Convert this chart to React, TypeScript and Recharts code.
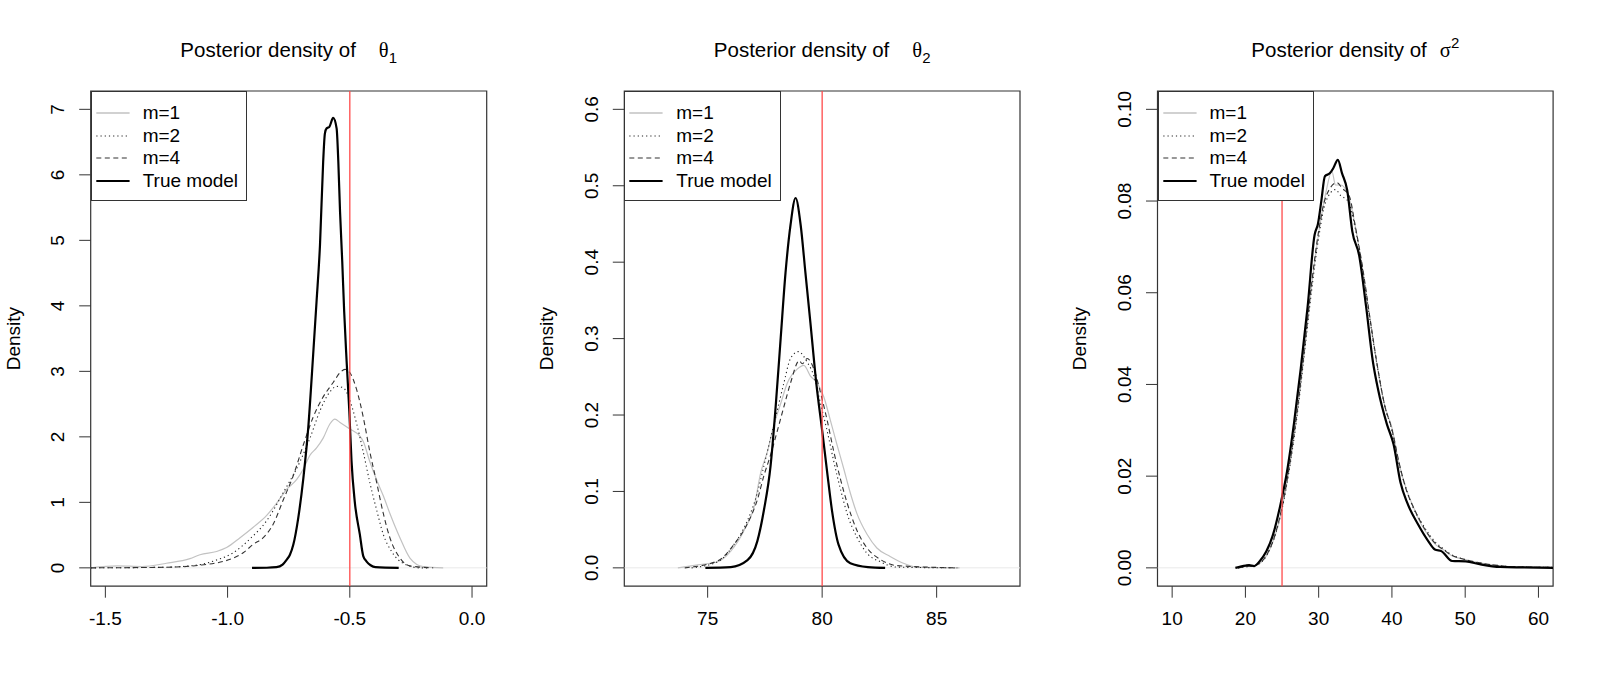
import React from "react";
import {
  LineChart,
  Line,
  XAxis,
  YAxis,
  ReferenceLine,
  ReferenceArea,
  Legend,
} from "recharts";

const FONT = '"Liberation Sans", Arial, Helvetica, sans-serif';
const SYMBOL_FONT = '"Liberation Serif", "DejaVu Serif", serif';

// ---------- theta_1 ----------
const th1XTicks = [-1.5, -1.0, -0.5, 0.0];
const th1YTicks = [0, 1, 2, 3, 4, 5, 6, 7];
const th1True = -0.5;

const th1M1X = [-1.56, -1.45, -1.35, -1.25, -1.154, -1.113, -1.045, -1.004, -0.949, -0.895, -0.84, -0.799, -0.758, -0.717, -0.69, -0.663, -0.636, -0.609, -0.581, -0.561, -0.54, -0.5, -0.459, -0.445, -0.418, -0.39, -0.363, -0.336, -0.295, -0.254, -0.2, -0.118];
const th1M1Y = [0, 0.03, 0.02, 0.07, 0.14, 0.2, 0.25, 0.31, 0.46, 0.62, 0.8, 0.99, 1.2, 1.35, 1.51, 1.72, 1.83, 1.98, 2.2, 2.27, 2.22, 2.12, 2.01, 1.93, 1.62, 1.34, 1.1, 0.83, 0.46, 0.15, 0.02, 0];

const th1M2X = [-1.56, -1.249, -1.113, -1.045, -0.977, -0.909, -0.84, -0.772, -0.704, -0.663, -0.622, -0.581, -0.554, -0.527, -0.5, -0.472, -0.445, -0.418, -0.39, -0.363, -0.329, -0.282, -0.213, -0.172];
const th1M2Y = [0, 0.01, 0.05, 0.12, 0.23, 0.44, 0.72, 1.15, 1.62, 1.98, 2.4, 2.69, 2.77, 2.75, 2.56, 2.2, 1.77, 1.3, 0.88, 0.51, 0.25, 0.07, 0, 0];

const th1M4X = [-1.56, -1.25, -1.113, -0.977, -0.936, -0.895, -0.854, -0.813, -0.772, -0.731, -0.69, -0.65, -0.609, -0.568, -0.54, -0.52, -0.5, -0.472, -0.445, -0.418, -0.39, -0.363, -0.336, -0.295, -0.254, -0.159];
const th1M4Y = [0, 0.01, 0.04, 0.15, 0.23, 0.36, 0.46, 0.67, 1.04, 1.41, 1.88, 2.3, 2.61, 2.83, 2.98, 3.03, 2.98, 2.72, 2.3, 1.77, 1.3, 0.83, 0.46, 0.15, 0.03, 0];

const th1TrueX = [-0.9, -0.84, -0.8, -0.775, -0.758, -0.745, -0.731, -0.711, -0.69, -0.67, -0.65, -0.636, -0.622, -0.609, -0.602, -0.595, -0.584, -0.568, -0.554, -0.547, -0.54, -0.531, -0.523, -0.513, -0.502, -0.493, -0.48, -0.459, -0.445, -0.432, -0.415, -0.395, -0.3];
const th1TrueY = [0, 0.002, 0.01, 0.05, 0.127, 0.2, 0.355, 0.76, 1.37, 2.14, 3.25, 4.07, 4.93, 6.2, 6.63, 6.71, 6.73, 6.87, 6.71, 6.2, 5.44, 4.68, 3.91, 3.15, 2.39, 1.63, 1.02, 0.51, 0.18, 0.1, 0.04, 0.01, 0];

// ---------- theta_2 ----------
const th2XTicks = [75, 80, 85];
const th2YTicks = [0, 0.1, 0.2, 0.3, 0.4, 0.5, 0.6];
const th2True = 80;

const th2M1X = [73.7, 74.57, 75.43, 76.01, 76.59, 77.03, 77.32, 77.61, 77.9, 78.19, 78.48, 78.91, 79.2, 79.49, 79.78, 80.07, 80.36, 80.65, 80.94, 81.23, 81.52, 81.96, 82.39, 82.97, 83.55, 84.13, 86.0];
const th2M1Y = [0, 0.004, 0.008, 0.022, 0.049, 0.08, 0.125, 0.152, 0.188, 0.215, 0.242, 0.26, 0.265, 0.251, 0.242, 0.224, 0.193, 0.161, 0.13, 0.098, 0.071, 0.044, 0.026, 0.015, 0.006, 0.001, 0];

const th2M2X = [74.3, 75.43, 76.16, 76.74, 77.17, 77.46, 77.75, 78.04, 78.33, 78.62, 78.96, 79.35, 79.64, 79.93, 80.22, 80.51, 80.8, 81.09, 81.52, 81.96, 82.54, 83.26, 85.9];
const th2M2Y = [0, 0.008, 0.031, 0.062, 0.098, 0.134, 0.17, 0.206, 0.242, 0.274, 0.283, 0.269, 0.251, 0.215, 0.179, 0.139, 0.103, 0.071, 0.04, 0.019, 0.008, 0.001, 0];

const th2M4X = [74.0, 75.43, 76.16, 76.74, 77.17, 77.46, 77.75, 78.04, 78.33, 78.62, 79.0, 79.13, 79.35, 79.64, 79.93, 80.22, 80.51, 80.8, 81.09, 81.52, 81.96, 82.54, 83.26, 85.9];
const th2M4Y = [0, 0.009, 0.031, 0.058, 0.089, 0.121, 0.148, 0.179, 0.211, 0.242, 0.271, 0.267, 0.274, 0.26, 0.229, 0.193, 0.152, 0.116, 0.085, 0.049, 0.026, 0.011, 0.003, 0];

const th2TrueX = [74.9, 76.01, 76.74, 77.17, 77.46, 77.75, 77.97, 78.19, 78.4, 78.62, 78.84, 79.06, 79.27, 79.49, 79.75, 80.0, 80.22, 80.43, 80.72, 81.23, 82.0, 82.75];
const th2TrueY = [0, 0.001, 0.01, 0.035, 0.076, 0.134, 0.211, 0.301, 0.386, 0.449, 0.484, 0.449, 0.386, 0.32, 0.24, 0.18, 0.125, 0.075, 0.03, 0.006, 0.001, 0];

// ---------- sigma^2 ----------
const sgXTicks = [10, 20, 30, 40, 50, 60];
const sgYTicks = [0, 0.02, 0.04, 0.06, 0.08, 0.1];
const sgTrue = 25;

const sgM1X = [19, 20, 21, 22, 23, 24, 25, 26, 27, 28, 29, 30, 31, 31.8, 32.3, 33, 34, 35, 36, 37, 38, 39, 40, 41, 42, 43, 44, 45, 46, 47, 48, 50, 52, 54, 57, 62];
const sgM1Y = [0, 0.0003, 0.0004, 0.001, 0.003, 0.0068, 0.013, 0.0218, 0.033, 0.0465, 0.061, 0.073, 0.082, 0.0865, 0.0835, 0.0835, 0.0815, 0.0745, 0.065, 0.0545, 0.044, 0.0355, 0.0305, 0.0225, 0.017, 0.013, 0.0095, 0.007, 0.005, 0.004, 0.0028, 0.0018, 0.0011, 0.0006, 0.0002, 0.0001];

const sgM2X = [19, 20, 21, 22, 23, 24, 25, 26, 27, 28, 29, 30, 31, 32.3, 33, 34, 35, 36, 37, 38, 39, 40, 41, 42, 43, 44, 45, 46, 47, 48, 50, 52, 54, 57, 62];
const sgM2Y = [0, 0.0002, 0.0004, 0.001, 0.003, 0.0068, 0.0128, 0.0215, 0.0325, 0.046, 0.06, 0.072, 0.08, 0.0825, 0.0812, 0.08, 0.074, 0.065, 0.054, 0.044, 0.0355, 0.03, 0.0225, 0.017, 0.0128, 0.01, 0.0075, 0.0055, 0.0042, 0.003, 0.0018, 0.001, 0.0006, 0.0002, 0.0001];

const sgM4X = [19, 20, 21, 22, 23, 24, 25, 26, 27, 28, 29, 30, 31, 32.5, 33.2, 34.2, 35, 36, 37, 38, 39, 40, 41, 42, 43, 44, 45, 46, 47, 48, 50, 52, 54, 57, 62];
const sgM4Y = [0, 0.0003, 0.0004, 0.0011, 0.0031, 0.007, 0.0133, 0.0222, 0.0335, 0.047, 0.0615, 0.0735, 0.081, 0.084, 0.0828, 0.081, 0.0745, 0.0655, 0.0545, 0.0442, 0.0355, 0.0302, 0.0228, 0.0168, 0.013, 0.0098, 0.0072, 0.0052, 0.004, 0.0029, 0.0018, 0.0011, 0.0006, 0.0002, 0.0001];

const sgTrueX = [18.63, 20.04, 20.5, 21.2, 21.92, 22.86, 23.8, 24.73, 25.67, 26.62, 27.55, 28.49, 29.44, 29.9, 30.37, 30.85, 31.55, 32.01, 32.62, 33.18, 33.89, 34.59, 35.53, 36.48, 37.41, 38.11, 39.3, 40.23, 41.17, 42.11, 43.52, 44.93, 45.86, 46.8, 48.21, 50.08, 51.97, 54.78, 58, 62];
const sgTrueY = [0, 0.0005, 0.0006, 0.0004, 0.0014, 0.0036, 0.0074, 0.0134, 0.0209, 0.0314, 0.0434, 0.0569, 0.0726, 0.075, 0.0801, 0.0854, 0.0861, 0.0872, 0.089, 0.0861, 0.0824, 0.0734, 0.0681, 0.0569, 0.0449, 0.0389, 0.0314, 0.0269, 0.0186, 0.0141, 0.0096, 0.0059, 0.004, 0.0036, 0.0015, 0.0014, 0.0008, 0.0002, 0.0001, 0];

const zip = (xs: number[], ys: number[]) => xs.map((x, i) => ({ x, y: ys[i] }));

// line looks, same order as the legend
const SERIES = [
  { key: "m1", name: "m=1", stroke: "#c2c2c2", width: 1.2, dash: undefined as string | undefined },
  { key: "m2", name: "m=2", stroke: "#222222", width: 1.1, dash: "1.2 3" },
  { key: "m4", name: "m=4", stroke: "#333333", width: 1.1, dash: "5 3.5" },
  { key: "tru", name: "True model", stroke: "#000000", width: 2.2, dash: undefined as string | undefined },
];

const PLOT_TOP = 91;
const PLOT_BOTTOM = 586.2;
const CHART_H = 700;
const TICK_LEN = 11.5;
const TEXT_SIZE = 19;

function LegendBox({ width }: { width: number }) {
  return (
    <div
      style={{
        width,
        height: 110,
        boxSizing: "border-box",
        border: "1px solid #333",
        background: "#fff",
        position: "relative",
        fontFamily: FONT,
        fontSize: TEXT_SIZE,
        color: "#000",
      }}
    >
      {SERIES.map((s, i) => (
        <div
          key={s.key}
          style={{ position: "absolute", left: 0, top: 21.4 + i * 22.4 - 11, height: 22, width: width - 2 }}
        >
          <svg width={44} height={22} style={{ position: "absolute", left: 0, top: 0 }}>
            <line
              x1={4.3}
              x2={37.6}
              y1={11}
              y2={11}
              stroke={s.stroke}
              strokeWidth={s.key === "m1" ? 1.6 : s.width}
              strokeDasharray={s.dash}
            />
          </svg>
          <span style={{ position: "absolute", left: 51, top: 0, lineHeight: "22px", whiteSpace: "nowrap" }}>
            {s.name}
          </span>
        </div>
      ))}
    </div>
  );
}

function Panel(props: {
  left: number;
  width: number;
  plotLeft: number;
  plotRight: number;
  xDomain: [number, number];
  yDomain: [number, number];
  xTicks: number[];
  yTicks: number[];
  xDigits: number;
  yDigits: number;
  lines: { x: number; y: number }[][];
  trueValue: number;
  legendWidth: number;
  title: React.ReactNode;
}) {
  const { left, width, plotLeft, plotRight, xDomain, yDomain } = props;
  const plotW = plotRight - plotLeft;

  const XTick = ({ x, y, payload }: any) => (
    <text x={x} y={y + 27.5} textAnchor="middle" fontSize={TEXT_SIZE} fontFamily={FONT} fill="#000">
      {Number(payload.value).toFixed(props.xDigits)}
    </text>
  );

  const YTick = ({ x, y, payload }: any) => {
    const bx = x - 15;
    return (
      <text
        x={bx}
        y={y}
        transform={`rotate(-90, ${bx}, ${y})`}
        textAnchor="middle"
        fontSize={TEXT_SIZE}
        fontFamily={FONT}
        fill="#000"
      >
        {Number(payload.value).toFixed(props.yDigits)}
      </text>
    );
  };

  const DensityLabel = ({ viewBox }: any) => {
    const vx = viewBox ? viewBox.x : 0;
    const cy = viewBox ? viewBox.y + viewBox.height / 2 : (PLOT_TOP + PLOT_BOTTOM) / 2;
    const bx = vx + plotLeft - 71;
    return (
      <text
        x={bx}
        y={cy}
        transform={`rotate(-90, ${bx}, ${cy})`}
        textAnchor="middle"
        fontSize={TEXT_SIZE}
        fontFamily={FONT}
        fill="#000"
      >
        Density
      </text>
    );
  };

  return (
    <div style={{ position: "absolute", left, top: 0, width, height: CHART_H }}>
      <div
        style={{
          position: "absolute",
          left: plotLeft,
          width: plotW,
          top: 39.5,
          textAlign: "center",
          fontFamily: FONT,
          fontSize: 20.5,
          lineHeight: "20px",
          whiteSpace: "nowrap",
          color: "#000",
        }}
      >
        {props.title}
      </div>
      <LineChart
        width={width}
        height={CHART_H}
        margin={{ top: PLOT_TOP, right: width - plotRight, bottom: 0, left: 0 }}
      >
        <XAxis
          type="number"
          dataKey="x"
          domain={xDomain}
          ticks={props.xTicks}
          interval={0}
          allowDataOverflow
          axisLine={false}
          tickSize={TICK_LEN}
          tickMargin={0}
          tickLine={{ stroke: "#333", strokeWidth: 1 }}
          tick={XTick}
          height={CHART_H - PLOT_BOTTOM}
        />
        <YAxis
          type="number"
          domain={yDomain}
          ticks={props.yTicks}
          interval={0}
          allowDataOverflow
          axisLine={false}
          tickSize={TICK_LEN}
          tickMargin={0}
          tickLine={{ stroke: "#333", strokeWidth: 1 }}
          tick={YTick}
          width={plotLeft}
          label={<DensityLabel />}
        />
        <ReferenceLine y={0} stroke="#e9e9e9" strokeWidth={1} />
        {SERIES.map((s, i) => (
          <Line
            key={s.key}
            data={props.lines[i]}
            dataKey="y"
            name={s.name}
            type="monotone"
            stroke={s.stroke}
            strokeWidth={s.width}
            strokeDasharray={s.dash}
            dot={false}
            activeDot={false}
            isAnimationActive={false}
          />
        ))}
        <ReferenceLine x={props.trueValue} stroke="#ff4a4a" strokeWidth={1.3} />
        <ReferenceArea
          x1={xDomain[0]}
          x2={xDomain[1]}
          y1={yDomain[0]}
          y2={yDomain[1]}
          fill="none"
          fillOpacity={0}
          stroke="#333"
          strokeWidth={1.2}
        />
        <Legend
          layout="vertical"
          align="center"
          verticalAlign="middle"
          content={() => <LegendBox width={props.legendWidth} />}
          wrapperStyle={{
            left: plotLeft,
            top: PLOT_TOP,
            width: props.legendWidth,
            height: 110,
            margin: 0,
          }}
        />
      </LineChart>
    </div>
  );
}

const Theta = ({ sub }: { sub: string }) => (
  <>
    Posterior density of
    <span style={{ marginLeft: 23, fontFamily: SYMBOL_FONT }}>θ</span>
    <span style={{ fontSize: 15, position: "relative", top: 6 }}>{sub}</span>
  </>
);

export default function App() {
  return (
    <div style={{ position: "absolute", left: 0, top: 0, width: 1600, height: 700, background: "#fff" }}>
      <Panel
        left={0}
        width={533}
        plotLeft={90.7}
        plotRight={486.7}
        xDomain={[-1.56, 0.06]}
        yDomain={[-0.28, 7.28]}
        xTicks={th1XTicks}
        yTicks={th1YTicks}
        xDigits={1}
        yDigits={0}
        lines={[zip(th1M1X, th1M1Y), zip(th1M2X, th1M2Y), zip(th1M4X, th1M4Y), zip(th1TrueX, th1TrueY)]}
        trueValue={th1True}
        legendWidth={156.6}
        title={<Theta sub="1" />}
      />
      <Panel
        left={533}
        width={533}
        plotLeft={91.3}
        plotRight={487}
        xDomain={[71.36, 88.64]}
        yDomain={[-0.024, 0.624]}
        xTicks={th2XTicks}
        yTicks={th2YTicks}
        xDigits={0}
        yDigits={1}
        lines={[zip(th2M1X, th2M1Y), zip(th2M2X, th2M2Y), zip(th2M4X, th2M4Y), zip(th2TrueX, th2TrueY)]}
        trueValue={th2True}
        legendWidth={156.4}
        title={<Theta sub="2" />}
      />
      <Panel
        left={1066}
        width={534}
        plotLeft={91.5}
        plotRight={487.1}
        xDomain={[8, 62]}
        yDomain={[-0.004, 0.104]}
        xTicks={sgXTicks}
        yTicks={sgYTicks}
        xDigits={0}
        yDigits={2}
        lines={[zip(sgM1X, sgM1Y), zip(sgM2X, sgM2Y), zip(sgM4X, sgM4Y), zip(sgTrueX, sgTrueY)]}
        trueValue={sgTrue}
        legendWidth={156.6}
        title={
          <>
            Posterior density of
            <span style={{ marginLeft: 13, fontFamily: SYMBOL_FONT }}>σ</span>
            <span style={{ fontSize: 15, position: "relative", top: -9 }}>2</span>
          </>
        }
      />
    </div>
  );
}
